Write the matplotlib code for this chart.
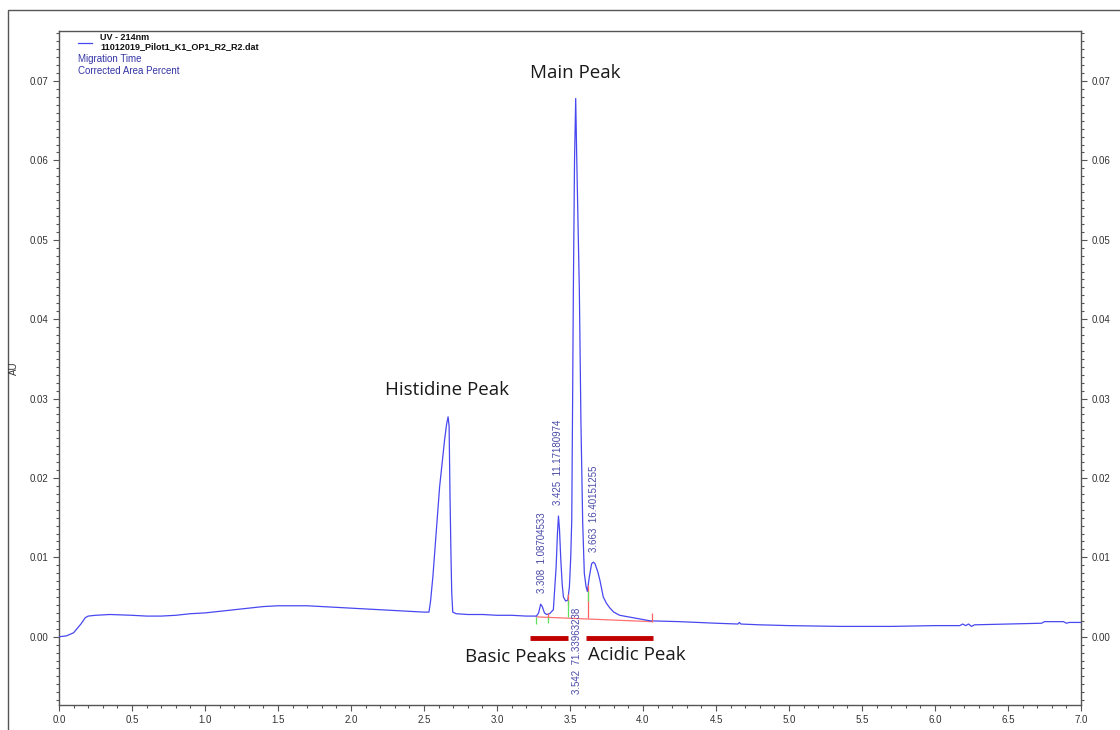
import numpy as np
import matplotlib.pyplot as plt
from matplotlib.ticker import MultipleLocator, FormatStrFormatter
from matplotlib.patches import Rectangle

# DATA

time_min = [0.0, 0.05, 0.1, 0.15, 0.18, 0.2, 0.25, 0.35, 0.5, 0.6, 0.7, 0.8, 0.9,
            1.0, 1.1, 1.2, 1.3, 1.4, 1.5, 1.6, 1.7, 1.8, 1.9, 2.0, 2.1, 2.2, 2.3,
            2.4, 2.5, 2.534, 2.545, 2.561, 2.585, 2.607, 2.625, 2.641, 2.655,
            2.665, 2.672, 2.678, 2.685, 2.69, 2.697, 2.72, 2.8, 2.9, 3.0, 3.1,
            3.2, 3.27, 3.285, 3.299, 3.31, 3.325, 3.34, 3.36, 3.386, 3.405,
            3.414, 3.421, 3.428, 3.437, 3.447, 3.455, 3.47, 3.485, 3.496, 3.505,
            3.512, 3.518, 3.523, 3.531, 3.539, 3.546, 3.555, 3.564, 3.575, 3.587,
            3.598, 3.61, 3.619, 3.632, 3.648, 3.66, 3.671, 3.69, 3.705, 3.728,
            3.75, 3.774, 3.8, 3.84, 3.93, 4.05, 4.25, 4.5, 4.65, 4.66, 4.67, 4.8,
            5.0, 5.35, 5.7, 6.0, 6.17, 6.19, 6.21, 6.23, 6.25, 6.27, 6.5, 6.73,
            6.75, 6.8, 6.88, 6.9, 6.92, 7.0]
au = [0.0000, 0.0001, 0.0005, 0.0016, 0.0024, 0.0026, 0.0027, 0.0028, 0.0027,
      0.0026, 0.0026, 0.0027, 0.0029, 0.0030, 0.0032, 0.0034, 0.0036, 0.0038,
      0.0039, 0.0039, 0.0039, 0.0038, 0.0037, 0.0036, 0.0035, 0.0034, 0.0033,
      0.0032, 0.0031, 0.0031, 0.0045, 0.0076, 0.0135, 0.0189, 0.0220, 0.0248,
      0.0268, 0.0277, 0.0265, 0.0180, 0.0100, 0.0055, 0.0031, 0.0029, 0.0028,
      0.0028, 0.0027, 0.0027, 0.0026, 0.0026, 0.0030, 0.0041, 0.0038, 0.0030,
      0.0028, 0.0029, 0.0034, 0.0088, 0.0130, 0.0152, 0.0135, 0.0097, 0.0065,
      0.0050, 0.0045, 0.0046, 0.0063, 0.0100, 0.0147, 0.0300, 0.0437, 0.0600,
      0.0678, 0.0605, 0.0520, 0.0437, 0.0269, 0.0143, 0.0080, 0.0063, 0.0057,
      0.0075, 0.0092, 0.0094, 0.0092, 0.0082, 0.0071, 0.0050, 0.0042, 0.0036,
      0.0031, 0.0027, 0.0024, 0.0020, 0.0019, 0.0017, 0.0016, 0.0018, 0.0016,
      0.0015, 0.0014, 0.0013, 0.0013, 0.0014, 0.0014, 0.0016, 0.0014, 0.0016,
      0.0013, 0.0015, 0.0016, 0.0017, 0.0019, 0.0019, 0.0019, 0.0017, 0.0018,
      0.0018]

# integration baseline and peak event marks
base_t = [3.27, 4.06]
base_au = [0.0025, 0.0019]
red_tick_t = [3.348, 3.485, 3.62, 4.06]
red_tick_lo = [0.0022, 0.0040, 0.0023, 0.0019]
red_tick_hi = [0.0030, 0.0054, 0.0065, 0.0030]
green_tick_t = [3.27, 3.348, 3.485, 3.62]
green_tick_lo = [0.0016, 0.0017, 0.0025, 0.0045]
green_tick_hi = [0.0025, 0.0025, 0.0046, 0.0057]

# peak labels: migration time, corrected area percent
peak_times = [3.308, 3.425, 3.542, 3.663]
peak_area = ["1.08704533", "11.17180974", "71.33963238", "16.40151255"]
label_x = [3.306, 3.418, 3.546, 3.664]
label_y = [0.0055, 0.0166, 0.0036, 0.0107]

# red bars under the basic / acidic groups
bar_groups = ["Basic Peaks", "Acidic Peak"]
bar_start = [3.226, 3.61]
bar_end = [3.486, 4.07]
bar_au = [-0.0002, -0.0001]

W, H = 1120, 730

fig = plt.figure(figsize=(W / 100, H / 100), dpi=100)
ax = fig.add_axes([59 / W, 1 - 705 / H, (1081 - 59) / W, (705 - 31) / H])

# outer frame of the screenshot
fig.patches.append(Rectangle((8 / W, -0.05), 1.2, 1 - 10 / H + 0.05,
                             transform=fig.transFigure, fill=False,
                             edgecolor="#555555", linewidth=1.0))

# TRACE
ax.plot(time_min, au, color="#4848f0", linewidth=0.9, zorder=4)

ax.plot(base_t, base_au, color="#ff7070", linewidth=0.9, zorder=3)
ax.vlines(red_tick_t, red_tick_lo, red_tick_hi, color="#ff6060", linewidth=0.9, zorder=5)
ax.vlines(green_tick_t, green_tick_lo, green_tick_hi, color="#5ee05e", linewidth=0.9, zorder=5)

lab_kw = dict(rotation=90, ha="center", fontsize=7, color="#4a4aa8",
              family="Liberation Sans")
for i in range(len(peak_times)):
    txt = f"{peak_times[i]:.3f}  {peak_area[i]}"
    va = "top" if peak_times[i] == 3.542 else "bottom"
    ax.text(label_x[i], label_y[i], txt, va=va, zorder=6, **lab_kw)

for i in range(len(bar_groups)):
    ax.plot([bar_start[i], bar_end[i]], [bar_au[i], bar_au[i]],
            color="#c00000", linewidth=3.5, solid_capstyle="butt", zorder=6)

big_kw = dict(fontsize=13.5, family="Open Sans", color="#1a1a1a", ha="center", va="center")
ax.text(3.534, 0.0710, "Main Peak", **big_kw)
ax.text(2.658, 0.0311, "Histidine Peak", **big_kw)
ax.text(3.13, -0.0026, "Basic Peaks", zorder=7, **big_kw)
ax.text(3.96, -0.0023, "Acidic Peak", zorder=7, **big_kw)

# AXES
ax.set_xlim(0, 7.0)
ax.set_ylim(-0.0086, 0.0763)
ax.xaxis.set_major_locator(MultipleLocator(0.5))
ax.xaxis.set_minor_locator(MultipleLocator(0.1))
ax.xaxis.set_major_formatter(FormatStrFormatter("%.1f"))
ax.yaxis.set_major_locator(MultipleLocator(0.01))
ax.yaxis.set_minor_locator(MultipleLocator(0.001))
ax.yaxis.set_major_formatter(FormatStrFormatter("%.2f"))
ax.tick_params(which="both", direction="out", colors="#555555",
               labelcolor="#333333", labelsize=7, left=True, right=True,
               labelright=True, top=False)
ax.tick_params(which="major", length=4, width=0.8)
ax.tick_params(which="minor", length=2, width=0.8)
for lbl in ax.get_xticklabels() + ax.get_yticklabels():
    lbl.set_family("Liberation Sans")
for lbl in ax.yaxis.get_ticklabels(which="major"):
    lbl.set_family("Liberation Sans")
for spine in ax.spines.values():
    spine.set_edgecolor("#555555")
    spine.set_linewidth(1.0)

fig.text(14 / W, 1 - 368 / H, "AU", rotation=90, fontsize=7, ha="center",
         va="center", color="#333333", family="Liberation Sans")
# axis title is mostly cut off at the bottom edge of the screenshot
fig.text(570 / W, 1 - 735 / H, "Minutes", fontsize=7, ha="center",
         va="center", color="#333333", family="Liberation Sans")

# legend block
fig.lines.append(plt.Line2D([78 / W, 92 / W], [1 - 43 / H, 1 - 43 / H],
                            transform=fig.transFigure, color="#4848f0", linewidth=0.9))
fig.text(100 / W, 1 - 37 / H, "UV - 214nm", fontsize=6.5, weight="bold",
         va="center", family="Liberation Sans", color="#111111")
fig.text(100 / W, 1 - 47 / H, "11012019_Pilot1_K1_OP1_R2_R2.dat", fontsize=6.5,
         weight="bold", va="center", family="Liberation Sans", color="#111111")
fig.text(78 / W, 1 - 59.5 / H, "Migration Time", fontsize=7, va="center",
         family="Liberation Sans", color="#3535a5")
fig.text(78 / W, 1 - 71.5 / H, "Corrected Area Percent", fontsize=7, va="center",
         family="Liberation Sans", color="#3535a5")

fig.savefig("out.png", dpi=100)
